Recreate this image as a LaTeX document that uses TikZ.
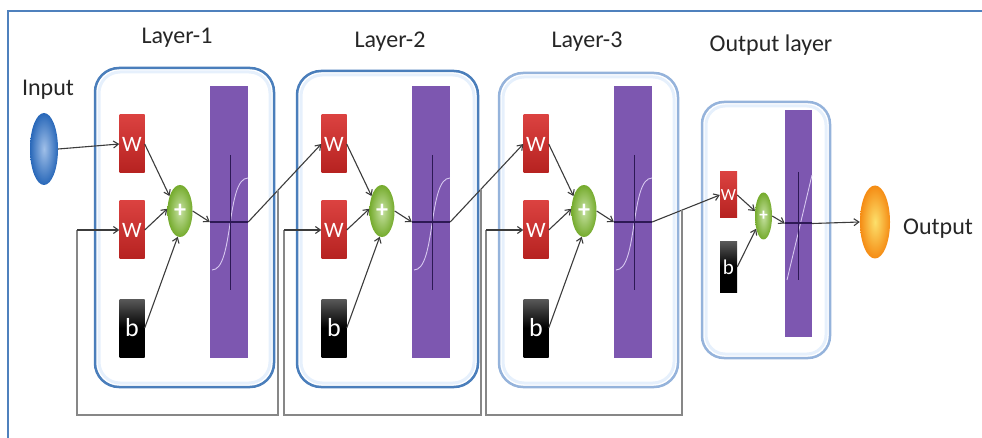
\documentclass[tikz,border=0pt]{standalone}
\usepackage{fontspec}
\setmainfont{Carlito}
\usetikzlibrary{arrows.meta,shapes.geometric,calc}
\definecolor{frameblue}{RGB}{79,129,189}
\definecolor{boxblue}{RGB}{74,126,187}
\definecolor{paleblue}{RGB}{149,179,219}
\definecolor{glowblue}{RGB}{230,240,252}
\definecolor{wred}{RGB}{214,40,38}
\definecolor{sumgreen}{RGB}{130,190,50}
\definecolor{barpurple}{RGB}{125,87,176}
\definecolor{barline}{RGB}{45,25,85}
\definecolor{curvewhite}{RGB}{215,200,240}
\definecolor{linkgray}{RGB}{60,60,60}
\definecolor{loopgray}{RGB}{135,135,135}
\definecolor{inblue}{RGB}{45,115,205}
\definecolor{outorange}{RGB}{245,140,20}

\tikzset{
  layerbox/.style={draw=boxblue, line width=2.5pt, rounded corners=24pt},
  layerglow/.style={draw=glowblue, line width=3pt, rounded corners=21pt},
  labeltext/.style={font=\fontsize{24}{24}\selectfont, text=black!85, inner sep=0pt},
  wbox/.style={rectangle, minimum width=25pt, minimum height=58pt, inner sep=0pt,
    top color=wred!88!white, bottom color=wred!85!black, text=white,
    font=\fontsize{22}{22}\selectfont},
  bbox/.style={wbox, top color=black!65, bottom color=black, middle color=black,
    font=\fontsize{26}{26}\selectfont},
  sumnode/.style={ellipse, minimum width=25pt, minimum height=52pt, inner sep=0pt,
    inner color=sumgreen!45!white, outer color=sumgreen!90!black, text=white,
    font=\bfseries\fontsize{24}{24}\selectfont},
  actbar/.style={rectangle, minimum width=38pt, minimum height=272pt, inner sep=0pt,
    fill=barpurple},
  curvepen/.style={draw=curvewhite, line width=0.9pt},
  barpen/.style={draw=barline, line width=1pt},
  conn/.style={draw=linkgray, line width=1.1pt, -{Straight Barb[length=5pt,width=7pt]}},
  loopline/.style={draw=loopgray, line width=1.5pt},
  endball/.style={ellipse, minimum width=28pt, minimum height=72pt, inner sep=0pt}
}

\begin{document}
\begin{tikzpicture}[x=1pt,y=-1pt]
\useasboundingbox (0,0) rectangle (982,438);
% frame
\draw[frameblue, line width=1.5pt] (8,438) -- (8,11) -- (982,11);
% input
\node[labeltext] (inlab) at (48,90) {Input};
\node[endball, inner color=inblue!45!white, outer color=inblue!90!black] (in) at (44,149) {};
%
% layer 1
\draw[layerbox] (95,68) rectangle (274,387);
\draw[layerglow] (99,72) rectangle (270,383);
\node[labeltext] (lab1) at (177,38) {Layer-1};
\node[wbox] (w11) at (132,144) {W};
\node[wbox] (w12) at (132,230) {W};
\node[bbox] (b1) at (132,328) {b};
\node[sumnode] (sum1) at (180,211) {+};
\node[actbar] (act1) at (229,222) {};
\draw[curvepen] (212,270) .. controls (234,270) and (226,178) .. (248,178);
\draw[barpen] (230,155) -- (230,290);
\draw[barpen, line width=2pt] (act1.west) -- (act1.east);
\draw[conn] (w11.east) -- (sum1.125);
\draw[conn] (w12.east) -- (sum1.170);
\draw[conn] (b1.east) -- (sum1.265);
\draw[conn] (sum1.east) -- (act1.west);
%
% layer 2
\begin{scope}[xshift=202pt]
\draw[layerbox] (95,71) rectangle (276,387);
\draw[layerglow] (99,75) rectangle (272,383);
\node[labeltext] (lab2) at (188,42) {Layer-2};
\node[wbox] (w21) at (132,144) {W};
\node[wbox] (w22) at (132,230) {W};
\node[bbox] (b2) at (132,328) {b};
\node[sumnode] (sum2) at (180,211) {+};
\node[actbar] (act2) at (229,222) {};
\draw[curvepen] (212,270) .. controls (234,270) and (226,178) .. (248,178);
\draw[barpen] (230,155) -- (230,290);
\draw[barpen, line width=2pt] (act2.west) -- (act2.east);
\draw[conn] (w21.east) -- (sum2.125);
\draw[conn] (w22.east) -- (sum2.170);
\draw[conn] (b2.east) -- (sum2.265);
\draw[conn] (sum2.east) -- (act2.west);
\end{scope}
%
% layer 3
\begin{scope}[xshift=404pt]
\draw[layerbox, draw=paleblue] (95,73) rectangle (274,387);
\draw[layerglow] (99,77) rectangle (270,383);
\node[labeltext] (lab3) at (183,42) {Layer-3};
\node[wbox] (w31) at (132,144) {W};
\node[wbox] (w32) at (132,230) {W};
\node[bbox] (b3) at (132,328) {b};
\node[sumnode] (sum3) at (180,211) {+};
\node[actbar] (act3) at (229,222) {};
\draw[curvepen] (212,270) .. controls (234,270) and (226,178) .. (248,178);
\draw[barpen] (230,155) -- (230,290);
\draw[barpen, line width=2pt] (act3.west) -- (act3.east);
\draw[conn] (w31.east) -- (sum3.125);
\draw[conn] (w32.east) -- (sum3.170);
\draw[conn] (b3.east) -- (sum3.265);
\draw[conn] (sum3.east) -- (act3.west);
\end{scope}
%
% output layer
\draw[layerbox, draw=paleblue, rounded corners=22pt] (702,102) rectangle (830,358);
\draw[layerglow, rounded corners=19pt] (706,106) rectangle (826,354);
\node[labeltext] (labout) at (771,45) {Output layer};
\node[wbox, minimum width=17pt, minimum height=46pt, font=\fontsize{17}{17}\selectfont] (wout) at (728.5,195) {W};
\node[bbox, minimum width=17pt, minimum height=51pt, font=\fontsize{21}{21}\selectfont] (bout) at (728.5,267) {b};
\node[sumnode, minimum width=17pt, minimum height=47pt, font=\bfseries\fontsize{17}{17}\selectfont] (sumout) at (763.5,216) {+};
\node[actbar, minimum width=27pt, minimum height=227pt] (actout) at (798.5,223.5) {};
\draw[curvepen] (787,280) -- (812,175);
\draw[barpen] (798,172) -- (798,280);
\draw[barpen, line width=2pt] (actout.west) -- (actout.east);
\draw[conn] (wout.east) -- (sumout.150);
\draw[conn] (bout.east) -- (sumout.240);
\draw[conn] (sumout.east) -- (actout.west);
% output
\node[endball, minimum width=30pt, minimum height=73pt, inner color=outorange!45!yellow!60!white, outer color=outorange] (out) at (875,222) {};
\node[labeltext, anchor=west] (outlab) at (903,229) {Output};
\draw[conn] (actout.east) -- (out.west);
%
% forward links
\draw[conn] (in.east) -- (w11.west);
\draw[conn] (act1.east) -- (w21.west);
\draw[conn] (act2.east) -- (w31.west);
\draw[conn] (act3.east) -- (wout.west);
%
% recurrent loops
\coordinate (tap1) at ($(act1.east)!0.41!(w21.west)$);
\coordinate (tap2) at ($(act2.east)!0.42!(w31.west)$);
\coordinate (tap3) at ($(act3.east)!0.44!(wout.west)$);
\coordinate (fb1) at (77,230);
\coordinate (fb2) at (284,230);
\coordinate (fb3) at (486,230);
\draw[loopline] (tap1) |- (77,415) -- (fb1);
\draw[loopline] (tap2) |- (284,415) -- (fb2);
\draw[loopline] (tap3) |- (486,415) -- (fb3);
\draw[conn] (fb1) -- (w12.west);
\draw[conn] (fb2) -- (w22.west);
\draw[conn] (fb3) -- (w32.west);
\end{tikzpicture}
\end{document}
